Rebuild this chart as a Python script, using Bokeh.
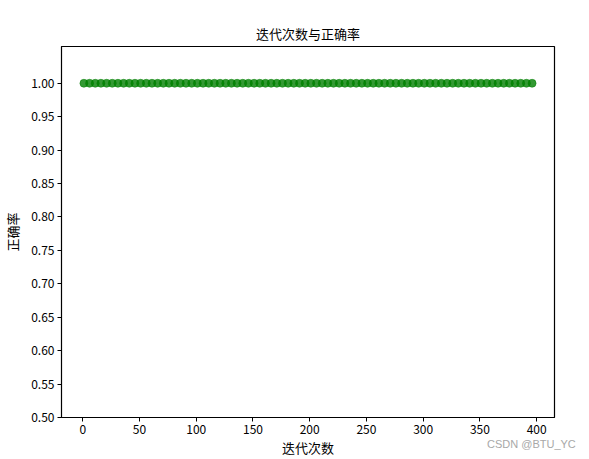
from bokeh.plotting import figure
from bokeh.models import FixedTicker, Range1d, PrintfTickFormatter, Div
from bokeh.layouts import column
from bokeh.embed import file_html
from bokeh.resources import INLINE

iterations = [1, 6, 11, 16, 21, 26, 31, 36, 41, 46, 51, 56, 61, 66, 71, 76, 81, 86, 91, 96,
              101, 106, 111, 116, 121, 126, 131, 136, 141, 146, 151, 156, 161, 166, 171, 176, 181, 186, 191, 196,
              201, 206, 211, 216, 221, 226, 231, 236, 241, 246, 251, 256, 261, 266, 271, 276, 281, 286, 291, 296,
              301, 306, 311, 316, 321, 326, 331, 336, 341, 346, 351, 356, 361, 366, 371, 376, 381, 386, 391, 396]
accuracy = [1.0] * 80
x_ticks = [0, 50, 100, 150, 200, 250, 300, 350, 400]
y_ticks = [0.50, 0.55, 0.60, 0.65, 0.70, 0.75, 0.80, 0.85, 0.90, 0.95, 1.00]

title_text = "迭代次数与正确率"
x_label = "迭代次数"
y_label = "正确率"
watermark = "CSDN @BTU_YC"

FONT = "Noto Sans CJK SC"

p = figure(width=589, height=459, output_backend="svg", toolbar_location=None,
           title=title_text,
           x_range=Range1d(-18.75, 415.75), y_range=Range1d(0.5, 1.055),
           min_border_left=59, min_border_right=35, min_border_top=46, min_border_bottom=42)

p.scatter(iterations, accuracy, size=8, fill_color="green", line_color="green",
          fill_alpha=0.8, line_alpha=0.5)

p.title.align = "center"
p.title.text_font = FONT
p.title.text_font_size = "13px"
p.title.text_font_style = "normal"
p.title.text_color = "black"
p.title.standoff = 8

p.xgrid.visible = False
p.ygrid.visible = False
p.outline_line_color = "black"
p.outline_line_width = 1.2
p.outline_line_alpha = 1.0

for ax in (p.xaxis[0], p.yaxis[0]):
    ax.axis_line_color = "black"
    ax.major_tick_line_color = "black"
    ax.major_tick_out = 4
    ax.major_tick_in = 0
    ax.minor_tick_line_color = None
    ax.major_label_text_font = FONT
    ax.major_label_text_font_size = "12px"
    ax.major_label_text_color = "black"
    ax.axis_label_text_font = FONT
    ax.axis_label_text_font_size = "13px"
    ax.axis_label_text_font_style = "normal"
    ax.axis_label_text_color = "black"
    ax.major_label_standoff = 3

p.xaxis.axis_label_standoff = 1
p.yaxis.axis_label_standoff = 6
p.xaxis.ticker = FixedTicker(ticks=x_ticks)
p.yaxis.ticker = FixedTicker(ticks=y_ticks)
p.yaxis.formatter = PrintfTickFormatter(format="%.2f")
p.xaxis.axis_label = x_label
p.yaxis.axis_label = y_label

mark = Div(text='<div style="font-family: \'Liberation Sans\'; font-size: 11px; color: #a8a8a8; '
                'text-align: right; line-height: 14px; white-space: nowrap;">' + watermark + '</div>',
           width=100, height=14, margin=(-23, 0, 0, 487))

layout = column(p, mark, spacing=0)

open("out.html", "w").write(file_html(layout, INLINE))
